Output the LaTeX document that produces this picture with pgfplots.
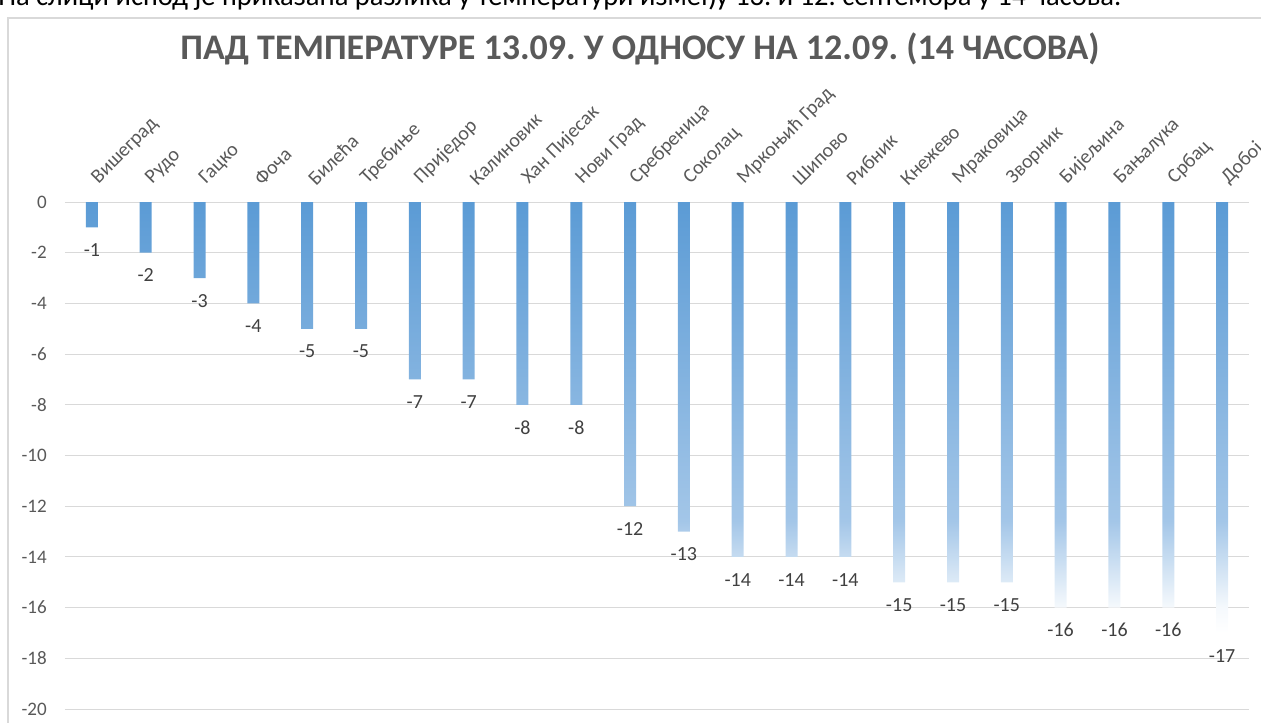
\documentclass[border=0pt]{standalone}
\usepackage{fontspec}
\setmainfont{Carlito}
\usepackage{pgfplots}
\pgfplotsset{compat=1.18}
\definecolor{barblue}{HTML}{5B9BD5}
\definecolor{midblue}{HTML}{A3C6E8}
\definecolor{gridc}{HTML}{D9D9D9}
\definecolor{txt}{HTML}{595959}
\definecolor{lbl}{HTML}{404040}
\pgfdeclareverticalshading{barfade}{100bp}{color(0bp)=(white); color(25bp)=(white); color(28bp)=(white!94!barblue); color(38bp)=(midblue); color(75bp)=(barblue); color(100bp)=(barblue)}
\frenchspacing
\begin{document}
\begin{tikzpicture}
\path[use as bounding box] (0pt,0pt) rectangle (945.75pt,-541.5pt);
\clip (0pt,0pt) rectangle (945.75pt,-541.5pt);
% cut-off line of text above the chart
\node[anchor=base west, inner sep=0pt, font=\fontsize{21.4}{24}\selectfont] at (-1.5pt,-4.1pt)
  {На слици испод је приказана разлика у температури између 13. и 12. септембра у 14 часова.};
% chart area border
\draw[gridc, line width=1.1pt] (6pt,-13.5pt) rectangle (960pt,-560pt);
% title
\node[anchor=base, inner sep=0pt, text=txt, font=\fontsize{27}{32}\selectfont\bfseries] at (480pt,-44.5pt)
  {ПАД ТЕМПЕРАТУРЕ 13.09. У ОДНОСУ НА 12.09. (14 ЧАСОВА)};
\begin{axis}[
  at={(48.75pt,-151.5pt)}, anchor=north west,
  scale only axis, width=888pt, height=380.25pt,
  xmin=-0.5, xmax=21.5, ymin=-20, ymax=0,
  axis line style={draw=none},
  ytick={-20,-18,...,0},
  xtick={0,...,21},
  xticklabels={Вишеград, Рудо, Гацко, Фоча, Билећа, Требиње, Приједор, Калиновик, Хан Пијесак, Нови Град, Сребреница, Соколац, Мркоњић Град, Шипово, Рибник, Кнежево, Мраковица, Зворник, Бијељина, Бањалука, Србац, Добој},
  xticklabel pos=upper,
  major tick length=0pt,
  ymajorgrids, grid style={gridc, line width=0.75pt},
  tick label style={text=txt},
  yticklabel style={font=\fontsize{14.3}{17}\selectfont, anchor=east, inner sep=0pt, xshift=-13.5pt},
  xticklabel style={font=\fontsize{15}{18}\selectfont, xshift=6.75pt, yshift=11.25pt, rotate=45, anchor=south west, inner sep=0pt},
  /pgf/number format/assume math mode=true,
  ybar, bar width=9pt,
  nodes near coords,
  every node near coord/.append style={font=\fontsize{15}{18}\selectfont, text=lbl, anchor=center, yshift=-17pt},
  clip=false,
]
\addplot[draw=none, shade, shading=barfade] coordinates {
(0,-1) (1,-2) (2,-3) (3,-4) (4,-5) (5,-5) (6,-7) (7,-7) (8,-8) (9,-8) (10,-12)
(11,-13) (12,-14) (13,-14) (14,-14) (15,-15) (16,-15) (17,-15) (18,-16) (19,-16) (20,-16) (21,-17)};
\end{axis}
\end{tikzpicture}
\end{document}
